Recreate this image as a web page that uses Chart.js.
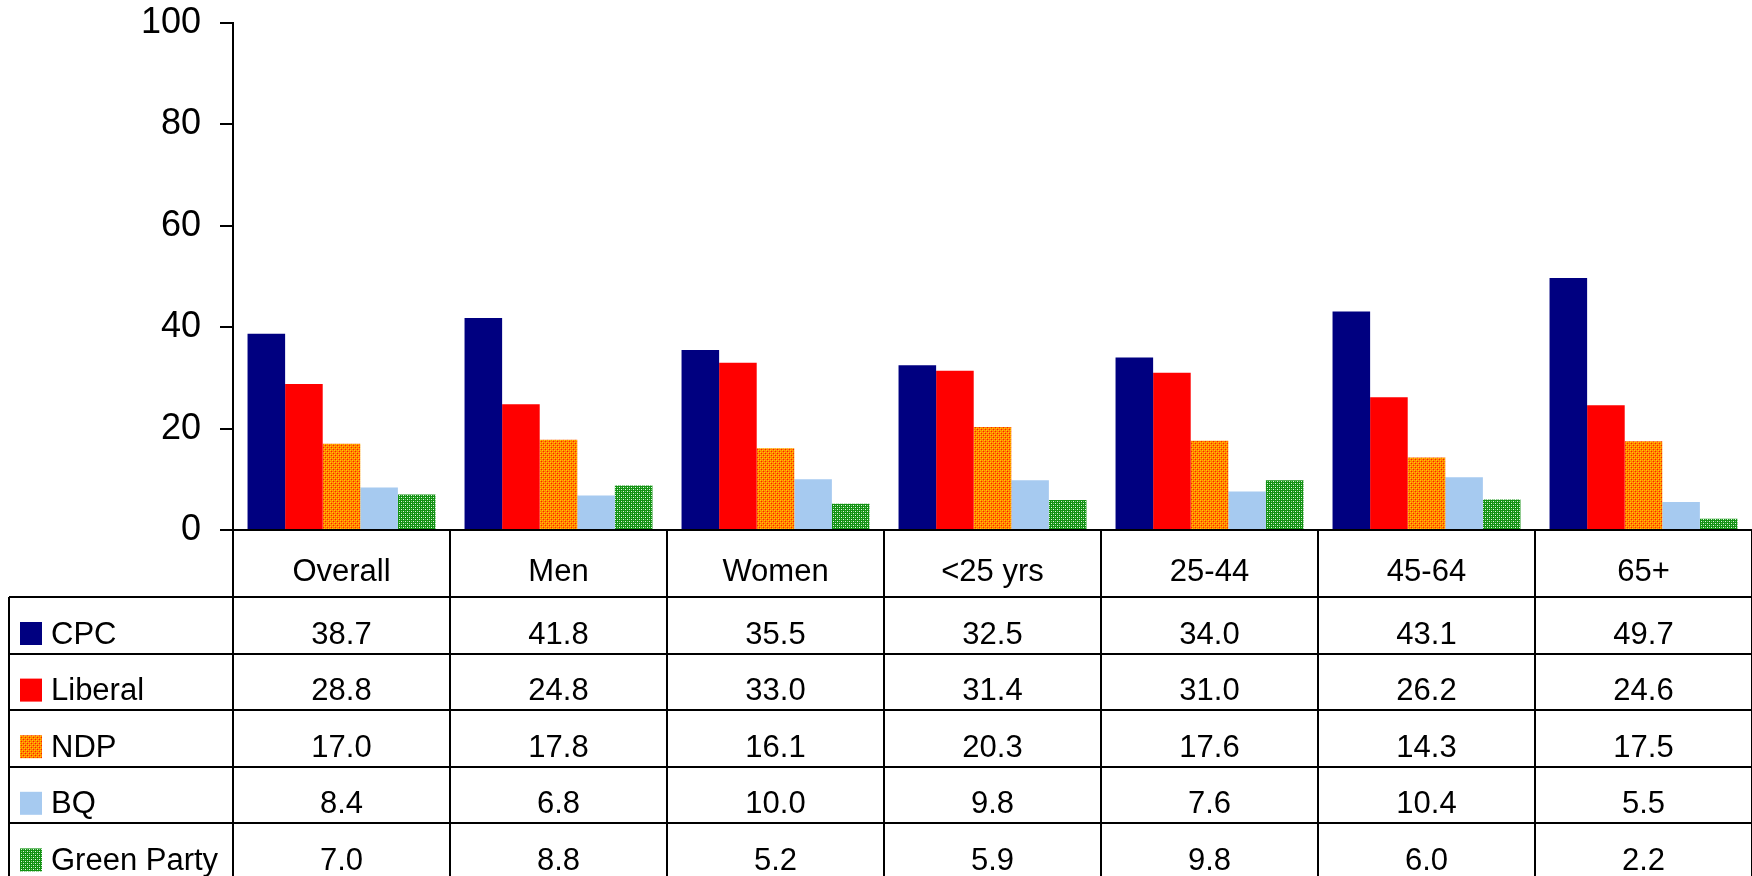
<!DOCTYPE html>
<html>
<head>
<meta charset="utf-8">
<script src="https://cdn.jsdelivr.net/npm/chart.js@4/dist/chart.umd.min.js"></script>
<style>
  html, body { margin: 0; padding: 0; background: #fff; }
  #c { display: block; }
</style>
</head>
<body>
<canvas id="c" width="1752" height="876"></canvas>
<script>
// ---- Data ----
const categories = ['Overall', 'Men', 'Women', '<25 yrs', '25-44', '45-64', '65+'];
const seriesNames = ['CPC', 'Liberal', 'NDP', 'BQ', 'Green Party'];
const cpc     = [38.7, 41.8, 35.5, 32.5, 34.0, 43.1, 49.7];
const liberal = [28.8, 24.8, 33.0, 31.4, 31.0, 26.2, 24.6];
const ndp     = [17.0, 17.8, 16.1, 20.3, 17.6, 14.3, 17.5];
const bq      = [8.4, 6.8, 10.0, 9.8, 7.6, 10.4, 5.5];
const green   = [7.0, 8.8, 5.2, 5.9, 9.8, 6.0, 2.2];
const yTicks  = [0, 20, 40, 60, 80, 100];

const FONT = 'Arial, "Liberation Sans", sans-serif';

function makePattern(base, dots) {
  const c = document.createElement('canvas');
  c.width = 4; c.height = 4;
  const g = c.getContext('2d');
  g.fillStyle = base; g.fillRect(0, 0, 4, 4);
  dots.forEach(([x, y, col]) => { g.fillStyle = col; g.fillRect(x, y, 1, 1); });
  return g.createPattern(c, 'repeat');
}
const ndpFill = makePattern('#FF8000', [[0,0,'#FFCC00'],[2,2,'#FFCC00'],[2,0,'#FFB000'],[0,2,'#FFB000'],[1,1,'#FF2000'],[3,3,'#FF2000']]);
const greenFill = makePattern('#129212', [[1,1,'#E6F6E6'],[3,3,'#E6F6E6'],[1,3,'#7CC87C'],[3,1,'#7CC87C']]);

const fills = ['#000080', '#FF0000', ndpFill, '#A6CAF0', greenFill];
const values = [cpc, liberal, ndp, bq, green];

const datasets = seriesNames.map((name, i) => ({
  label: name,
  data: values[i],
  backgroundColor: fills[i],
  borderWidth: 0,
  categoryPercentage: 0.866,
  barPercentage: 1.0
}));

const tablePlugin = {
  id: 'dataTable',
  afterDraw(chart) {
    const ctx = chart.ctx;
    const xs = chart.scales.x;
    const ca = chart.chartArea;
    const n = categories.length;
    const cw = (xs.right - xs.left) / n;
    const headerBottom = 597, rowH = 56.6, tableLeft = 9, bottom = chart.height + 4;
    const line = (x1, y1, x2, y2) => { ctx.beginPath(); ctx.moveTo(x1, y1); ctx.lineTo(x2, y2); ctx.stroke(); };
    ctx.save();
    ctx.strokeStyle = '#000';
    ctx.lineWidth = 2;
    for (let i = 0; i <= n; i++) {
      const px = Math.round(xs.left + cw * i);
      line(px, ca.bottom, px, bottom);
    }
    line(tableLeft, headerBottom, tableLeft, bottom);
    for (let r = 0; r <= seriesNames.length; r++) {
      const py = Math.round(headerBottom + r * rowH);
      line(tableLeft, py, xs.right, py);
    }
    ctx.font = '31px ' + FONT;
    ctx.textBaseline = 'alphabetic';
    ctx.fillStyle = '#000';
    for (let r = 0; r < seriesNames.length; r++) {
      const top = headerBottom + r * rowH;
      const base = top + 46.5;
      ctx.fillStyle = fills[r];
      ctx.fillRect(20, top + 25, 22, 23);
      ctx.fillStyle = '#000';
      ctx.textAlign = 'left';
      ctx.fillText(seriesNames[r], 51, base);
      ctx.textAlign = 'center';
      for (let i = 0; i < n; i++) {
        const cx = xs.getPixelForValue(i);
        ctx.fillText(values[r][i].toFixed(1), cx, base);
      }
    }
    ctx.restore();
  }
};

new Chart(document.getElementById('c'), {
  type: 'bar',
  data: { labels: categories, datasets },
  options: {
    responsive: false,
    animation: false,
    devicePixelRatio: 1,
    layout: { padding: { top: 23, right: 0, bottom: 0, left: 0 } },
    plugins: { legend: { display: false }, tooltip: { enabled: false } },
    scales: {
      x: {
        grid: { display: false },
        border: { display: true, color: '#000', width: 2 },
        ticks: { color: '#000', font: { family: FONT, size: 31 }, padding: 16, maxRotation: 0, autoSkip: false },
        afterFit(scale) { scale.height = 346; scale.paddingLeft = 0; scale.paddingRight = 0; }
      },
      y: {
        min: 0, max: 100,
        afterBuildTicks(scale) { scale.ticks = yTicks.map(v => ({ value: v })); },
        grid: { drawOnChartArea: false, drawTicks: true, tickLength: 13, color: '#000', lineWidth: 2 },
        border: { display: true, color: '#000', width: 2 },
        ticks: { color: '#000', font: { family: FONT, size: 36 }, padding: 19 },
        afterFit(scale) { scale.width = 233; scale.paddingTop = 0; scale.paddingBottom = 0; }
      }
    }
  },
  plugins: [tablePlugin]
});
</script>
</body>
</html>
